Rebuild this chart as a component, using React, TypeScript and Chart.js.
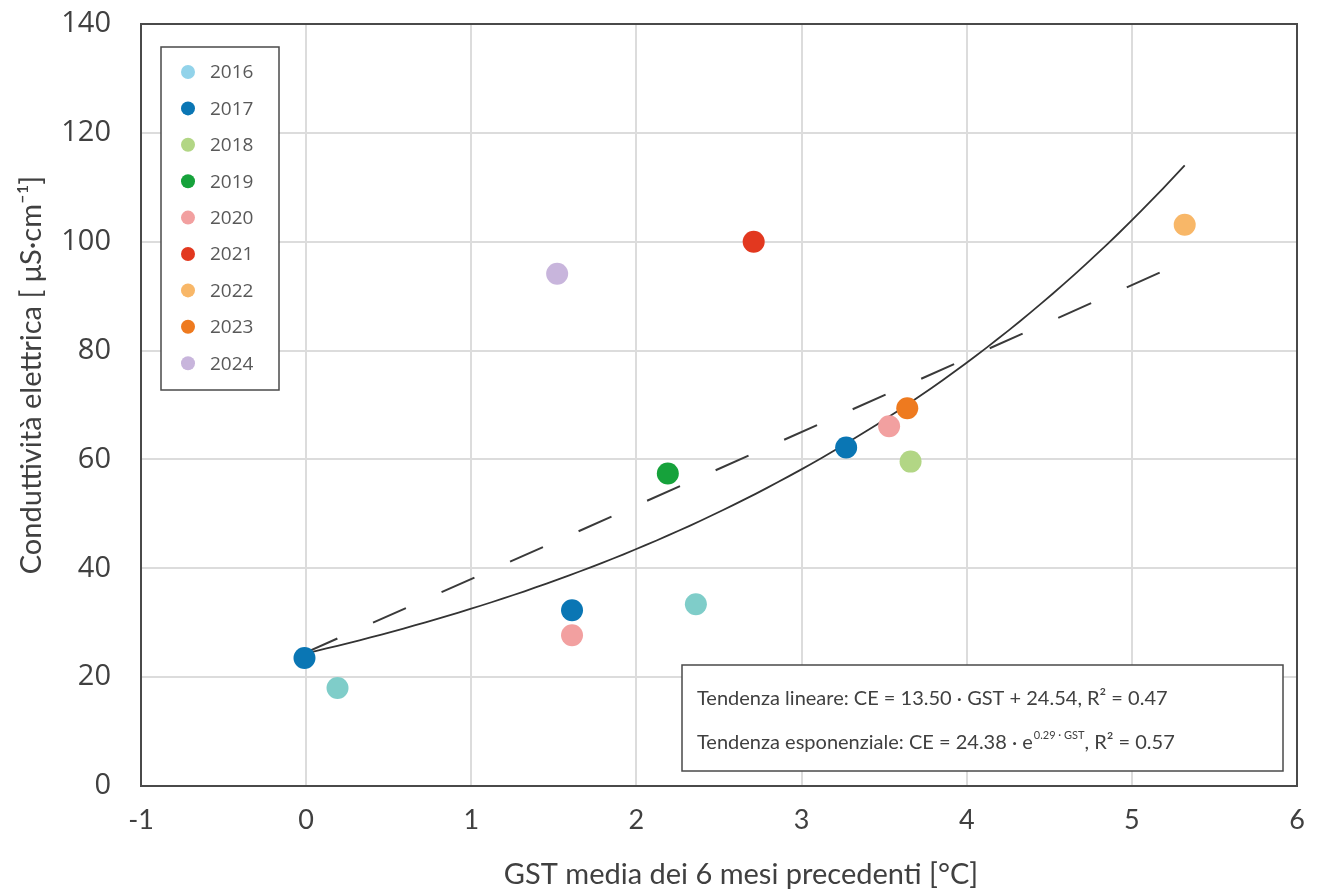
import React, { useEffect, useRef } from "react";
import { Chart, registerables } from "chart.js";

Chart.register(...registerables);

// Survey years and their marker colours
const YEARS = ["2016", "2017", "2018", "2019", "2020", "2021", "2022", "2023", "2024"];
const POINT_COLORS = ["#7fcdc9", "#0a76b4", "#b2d685", "#16a23b", "#f2a0a0", "#e2381f", "#f8b768", "#ee7a1f", "#c8b5dc"];
const LEGEND_COLORS = ["#92d3ea", "#0a76b4", "#b2d685", "#16a23b", "#f2a0a0", "#e2381f", "#f8b768", "#ee7a1f", "#c8b5dc"];

// Mean ground surface temperature of the previous 6 months [°C] and electrical conductivity [µS/cm]
const GST_2016 = [0.19, 2.36];
const CE_2016 = [18.0, 33.4];
const GST_2017 = [-0.01, 1.61, 3.27];
const CE_2017 = [23.5, 32.3, 62.2];
const GST_2018 = [3.66];
const CE_2018 = [59.6];
const GST_2019 = [2.19];
const CE_2019 = [57.4];
const GST_2020 = [1.61, 3.53];
const CE_2020 = [27.7, 66.1];
const GST_2021 = [2.71];
const CE_2021 = [100.0];
const GST_2022 = [5.32];
const CE_2022 = [103.1];
const GST_2023 = [3.64];
const CE_2023 = [69.4];
const GST_2024 = [1.52];
const CE_2024 = [94.1];

const GST_BY_YEAR = [GST_2016, GST_2017, GST_2018, GST_2019, GST_2020, GST_2021, GST_2022, GST_2023, GST_2024];
const CE_BY_YEAR = [CE_2016, CE_2017, CE_2018, CE_2019, CE_2020, CE_2021, CE_2022, CE_2023, CE_2024];

// Fitted trends as stated in the annotation box
const LIN_SLOPE = 13.5;
const LIN_INTERCEPT = 24.54;
const LIN_R2 = 0.47;
const EXP_A = 24.38;
const EXP_B = 0.29;
const EXP_R2 = 0.57;

// Axis ticks
const X_TICKS = [-1, 0, 1, 2, 3, 4, 5, 6];
const Y_TICKS = [0, 20, 40, 60, 80, 100, 120, 140];

const X_TITLE = "GST media dei 6 mesi precedenti [°C]";
const Y_TITLE = "Conduttività elettrica [ μS·cm⁻¹]";

const allGst = GST_BY_YEAR.flat();
const gstMin = Math.min(...allGst);
const gstMax = Math.max(...allGst);

function linearTrend() {
  return [gstMin, gstMax].map((x) => ({ x, y: LIN_SLOPE * x + LIN_INTERCEPT }));
}

function expTrend() {
  const pts = [];
  const steps = 80;
  for (let i = 0; i <= steps; i++) {
    const x = gstMin + ((gstMax - gstMin) * i) / steps;
    pts.push({ x, y: EXP_A * Math.exp(EXP_B * x) });
  }
  return pts;
}

const TEXT_COLOR = "#404040";
const BOX_COLOR = "#4a4a4a";

const overlayPlugin = {
  id: "overlay",
  afterDraw(chart: any) {
    const ctx = chart.ctx as CanvasRenderingContext2D;
    ctx.save();

    // Axis titles
    ctx.fillStyle = TEXT_COLOR;
    ctx.font = "29px Lato";
    ctx.textAlign = "center";
    ctx.textBaseline = "middle";
    ctx.fillText(X_TITLE, 741, 875);

    ctx.save();
    ctx.translate(32, 375);
    ctx.rotate(-Math.PI / 2);
    ctx.font = "29px Lato";
    ctx.fillText(Y_TITLE, 0, 0);
    ctx.restore();

    // Legend box inside the plot
    const lx = 161, ly = 47, lw = 118, lh = 343;
    ctx.fillStyle = "#ffffff";
    ctx.fillRect(lx, ly, lw, lh);
    ctx.strokeStyle = BOX_COLOR;
    ctx.lineWidth = 1.5;
    ctx.strokeRect(lx, ly, lw, lh);
    ctx.font = "19px 'Open Sans'";
    ctx.textAlign = "left";
    ctx.textBaseline = "middle";
    YEARS.forEach((yr, i) => {
      const cy = 72 + i * 36.4;
      ctx.fillStyle = LEGEND_COLORS[i];
      ctx.beginPath();
      ctx.arc(188, cy, 7, 0, Math.PI * 2);
      ctx.fill();
      ctx.fillStyle = "#595959";
      ctx.fillText(yr, 210, cy + 1);
    });

    // Trend equation box
    const bx = 682, by = 665, bw = 601, bh = 106;
    ctx.fillStyle = "#ffffff";
    ctx.fillRect(bx, by, bw, bh);
    ctx.strokeStyle = BOX_COLOR;
    ctx.lineWidth = 1.5;
    ctx.strokeRect(bx, by, bw, bh);

    ctx.fillStyle = TEXT_COLOR;
    ctx.textBaseline = "alphabetic";
    ctx.font = "20px Lato";
    const line1 = `Tendenza lineare: CE = ${LIN_SLOPE.toFixed(2)} · GST + ${LIN_INTERCEPT.toFixed(2)}, R² = ${LIN_R2.toFixed(2)}`;
    ctx.fillText(line1, 697, 705);

    let x = 697;
    const base2 = 749;
    const part1 = `Tendenza esponenziale: CE = ${EXP_A.toFixed(2)} · e`;
    ctx.fillText(part1, x, base2);
    x += ctx.measureText(part1).width + 1;
    ctx.font = "11px Lato";
    const sup = `${EXP_B.toFixed(2)} · GST`;
    ctx.fillText(sup, x, base2 - 10);
    x += ctx.measureText(sup).width;
    ctx.font = "20px Lato";
    ctx.fillText(`, R² = ${EXP_R2.toFixed(2)}`, x, base2);

    ctx.restore();
  },
};

export default function App() {
  const canvasRef = useRef<HTMLCanvasElement | null>(null);

  useEffect(() => {
    const canvas = canvasRef.current;
    if (!canvas) return;

    const scatterSets = YEARS.map((yr, i) => ({
      type: "scatter" as const,
      label: yr,
      data: GST_BY_YEAR[i].map((g, j) => ({ x: g, y: CE_BY_YEAR[i][j] })),
      backgroundColor: POINT_COLORS[i],
      borderWidth: 0,
      pointRadius: 11,
      pointHoverRadius: 11,
      order: 0,
    }));

    const chart = new Chart(canvas, {
      type: "scatter",
      data: {
        datasets: [
          ...scatterSets,
          {
            type: "line",
            label: "Tendenza lineare",
            data: linearTrend(),
            borderColor: "#3a3a3a",
            borderWidth: 2,
            borderDash: [36, 39],
            pointRadius: 0,
            fill: false,
            order: 1,
          },
          {
            type: "line",
            label: "Tendenza esponenziale",
            data: expTrend(),
            borderColor: "#333333",
            borderWidth: 1.8,
            pointRadius: 0,
            tension: 0,
            fill: false,
            order: 1,
          },
        ] as any,
      },
      options: {
        responsive: false,
        maintainAspectRatio: false,
        animation: false,
        devicePixelRatio: 1,
        layout: { padding: { left: 0, right: 23, top: 24, bottom: 0 } },
        plugins: {
          legend: { display: false },
          tooltip: { enabled: false },
        },
        scales: {
          x: {
            type: "linear",
            min: X_TICKS[0],
            max: X_TICKS[X_TICKS.length - 1],
            afterBuildTicks: (scale: any) => {
              scale.ticks = X_TICKS.map((v) => ({ value: v }));
            },
            afterFit: (scale: any) => {
              scale.height = 104;
              scale.paddingRight = 0;
            },
            grid: { color: "#dcdcdc", lineWidth: 2, drawTicks: false },
            border: { display: true, color: BOX_COLOR, width: 2 },
            ticks: {
              padding: 18,
              color: TEXT_COLOR,
              font: { family: "Lato", size: 27 },
              maxRotation: 0,
            },
          },
          y: {
            type: "linear",
            min: Y_TICKS[0],
            max: Y_TICKS[Y_TICKS.length - 1],
            afterBuildTicks: (scale: any) => {
              scale.ticks = Y_TICKS.map((v) => ({ value: v }));
            },
            afterFit: (scale: any) => {
              scale.width = 141;
              scale.paddingTop = 0;
              scale.paddingBottom = 0;
            },
            grid: { color: "#dcdcdc", lineWidth: 2, drawTicks: false },
            border: { display: true, color: BOX_COLOR, width: 2 },
            ticks: {
              padding: 30,
              color: TEXT_COLOR,
              font: { family: "Open Sans", size: 29 },
            },
          },
        },
      },
      plugins: [
        overlayPlugin,
        {
          id: "frame",
          afterDatasetsDraw(c: any) {
            const { left, right, top, bottom } = c.chartArea;
            const ctx = c.ctx;
            ctx.save();
            ctx.strokeStyle = BOX_COLOR;
            ctx.lineWidth = 2;
            ctx.strokeRect(left, top, right - left, bottom - top);
            ctx.restore();
          },
        },
      ],
    });

    return () => chart.destroy();
  }, []);

  return (
    <div style={{ position: "absolute", left: 0, top: 0, width: 1320, height: 890, background: "#ffffff" }}>
      <canvas ref={canvasRef} width={1320} height={890} style={{ width: 1320, height: 890, display: "block" }} />
    </div>
  );
}
